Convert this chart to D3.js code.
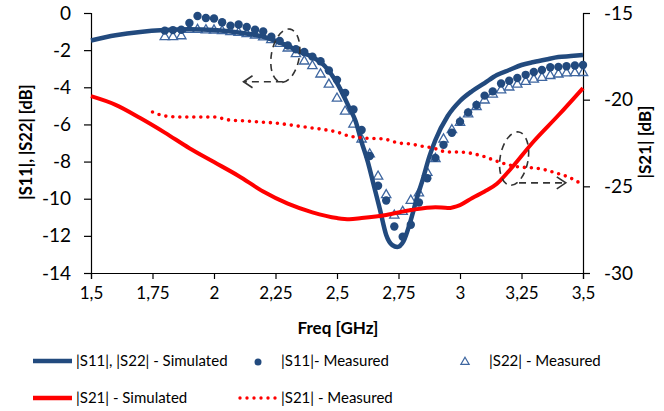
<!DOCTYPE html>
<html><head><meta charset="utf-8">
<script src="https://cdn.jsdelivr.net/npm/d3@7"></script>
<style>body{margin:0;background:#fff} text{font-family:Lato,"Open Sans",sans-serif;fill:#000}</style>
</head><body><svg id="c" width="664" height="411"></svg>
<script>
const xTicks = [1.5,1.75,2,2.25,2.5,2.75,3,3.25,3.5];
const yLeftTicks = [0,-2,-4,-6,-8,-10,-12,-14];
const yRightTicks = [-15,-20,-25,-30];

const simFreq = [1.5,1.6,1.7,1.8,1.9,2.0,2.1,2.2,2.25,2.3,2.35,2.4,2.45,2.5,2.55,2.575,2.6,2.625,2.65,2.675,2.7,2.725,2.745,2.77,2.8,2.825,2.85,2.875,2.9,2.95,3.0,3.05,3.1,3.15,3.2,3.25,3.3,3.35,3.4,3.45,3.5];
const s11Sim = [-1.48,-1.2,-1.02,-0.92,-0.88,-0.92,-1.05,-1.28,-1.5,-1.76,-2.1,-2.37,-2.85,-3.77,-5.1,-5.8,-6.95,-8.0,-9.3,-10.6,-11.95,-12.5,-12.6,-12.3,-11.15,-9.96,-8.9,-7.75,-6.84,-5.55,-4.74,-4.2,-3.77,-3.34,-3.07,-2.8,-2.64,-2.5,-2.37,-2.32,-2.26];

const measFreq = [1.800,1.833,1.867,1.900,1.933,1.967,2.000,2.033,2.067,2.100,2.133,2.167,2.200,2.233,2.267,2.300,2.333,2.367,2.400,2.433,2.467,2.500,2.533,2.567,2.600,2.633,2.667,2.700,2.733,2.767,2.800,2.833,2.867,2.900,2.933,2.967,3.000,3.033,3.067,3.100,3.133,3.167,3.200,3.233,3.267,3.300,3.333,3.367,3.400,3.433,3.467,3.500];
const s11Meas = [-0.95,-0.92,-0.9,-0.54,-0.16,-0.27,-0.3,-0.5,-0.68,-0.62,-0.75,-0.9,-1.0,-1.28,-1.5,-1.75,-1.95,-2.1,-2.35,-2.6,-3.1,-3.6,-4.3,-5.2,-6.3,-7.7,-9.3,-10.1,-11.5,-12.05,-11.4,-10.2,-8.9,-7.8,-7.1,-6.45,-5.85,-5.35,-4.95,-4.45,-4.22,-3.8,-3.65,-3.5,-3.33,-3.18,-3.07,-2.92,-2.9,-2.87,-2.83,-2.8];
const s22Meas = [-1.29,-1.29,-1.24,-0.9,-0.9,-0.92,-0.93,-0.97,-1.02,-1.06,-1.12,-1.2,-1.3,-1.45,-1.65,-1.9,-2.2,-2.6,-2.85,-3.3,-3.85,-4.6,-5.3,-6.0,-6.8,-7.6,-8.8,-9.8,-10.9,-10.7,-10.1,-9.7,-8.6,-7.85,-6.8,-6.3,-5.9,-5.45,-5.05,-4.7,-4.38,-4.15,-4.0,-3.85,-3.7,-3.58,-3.48,-3.38,-3.3,-3.24,-3.23,-3.22];

const s21SimFreq = [1.5,1.6,1.7,1.8,1.9,2.0,2.1,2.2,2.3,2.4,2.5,2.55,2.6,2.7,2.8,2.9,2.95,3.0,3.05,3.1,3.15,3.2,3.3,3.4,3.5];
const s21Sim = [-19.8,-20.3,-21.06,-21.9,-22.8,-23.6,-24.4,-25.3,-26.0,-26.5,-26.83,-26.9,-26.83,-26.65,-26.37,-26.2,-26.25,-26.08,-25.67,-25.3,-24.85,-24.1,-22.4,-20.9,-19.33];

const s21MeasFreq = [1.75,1.80,1.86,1.92,2.0,2.06,2.13,2.19,2.25,2.31,2.37,2.43,2.5,2.55,2.61,2.69,2.75,2.8,2.84,2.89,2.95,2.99,3.04,3.09,3.16,3.2,3.24,3.3,3.35,3.39,3.44,3.48];
const s21Meas = [-20.71,-20.94,-21.0,-21.0,-21.0,-21.17,-21.23,-21.29,-21.35,-21.46,-21.58,-21.69,-21.87,-22.1,-22.21,-22.27,-22.5,-22.56,-22.67,-22.79,-23.02,-23.02,-23.08,-23.25,-23.6,-23.77,-23.88,-23.94,-24.06,-24.23,-24.46,-24.75];

const legendLabels = ["|S11|, |S22| - Simulated","|S11|- Measured","|S22| - Measured","|S21| - Simulated","|S21| - Measured"];

const BLUE = "#224a7e", TRI = "#3e66a0", RED = "#ff0000";
const svg = d3.select("#c");
const L = 91, R = 583, T = 13, B = 273;
const x = d3.scaleLinear().domain([1.5,3.5]).range([L,R]);
const yL = d3.scaleLinear().domain([-14,0]).range([B,T]);
const yR = d3.scaleLinear().domain([-30,-15]).range([B,T]);
const fmt = d => String(d).replace('.',',');

// axes
const gx = svg.append("g").attr("transform",`translate(0,${B})`)
  .call(d3.axisBottom(x).tickValues(xTicks).tickSize(6).tickPadding(8).tickFormat(fmt));
const gl = svg.append("g").attr("transform",`translate(${L},0)`)
  .call(d3.axisLeft(yL).tickValues(yLeftTicks).tickSize(7).tickPadding(13).tickFormat(d=>String(d)));
const gr = svg.append("g").attr("transform",`translate(${R},0)`)
  .call(d3.axisRight(yR).tickValues(yRightTicks).tickSize(7).tickPadding(14).tickFormat(d=>String(d)));
[gx,gl,gr].forEach(g=>{
  g.select(".domain").attr("stroke","#000").attr("stroke-width",1.2);
  g.selectAll(".tick line").attr("stroke","#000").attr("stroke-width",1.2);
  g.selectAll("text").style("font-family","Lato, 'Open Sans', sans-serif").attr("fill","#000");
});
gx.selectAll("text").style("font-size","17px");
gl.selectAll("text").style("font-size","19px");
gr.selectAll("text").style("font-size","19px");

// axis titles
svg.append("text").attr("transform","translate(32,142) rotate(-90)").attr("text-anchor","middle")
  .style("font-size","16.5px").style("font-weight","bold").text("|S11|, |S22| [dB]");
svg.append("text").attr("transform","translate(651,142) rotate(-90)").attr("text-anchor","middle")
  .style("font-size","17px").style("font-weight","bold").text("|S21| [dB]");
svg.append("text").attr("x",338).attr("y",334).attr("text-anchor","middle")
  .style("font-size","17px").style("font-weight","bold").text("Freq [GHz]");

const lineL = d3.line().x(d=>x(d[0])).y(d=>yL(d[1])).curve(d3.curveMonotoneX);
const lineR = d3.line().x(d=>x(d[0])).y(d=>yR(d[1])).curve(d3.curveMonotoneX);

// S22 measured triangles (under the simulated line)
const tri = d3.symbol().type(d3.symbolTriangle).size(38);
svg.append("g").selectAll("path").data(d3.zip(measFreq,s22Meas)).join("path")
  .attr("d",tri).attr("transform",d=>`translate(${x(d[0])},${yL(d[1])})`)
  .attr("fill","none").attr("stroke",TRI).attr("stroke-width",1.3);

// S11 simulated
svg.append("path").datum(d3.zip(simFreq,s11Sim)).attr("d",lineL)
  .attr("fill","none").attr("stroke",BLUE).attr("stroke-width",4.5).attr("stroke-linejoin","round");

// S11 measured dots
svg.append("g").selectAll("circle").data(d3.zip(measFreq,s11Meas)).join("circle")
  .attr("cx",d=>x(d[0])).attr("cy",d=>yL(d[1])).attr("r",4.2).attr("fill",BLUE);

// S21 simulated
svg.append("path").datum(d3.zip(s21SimFreq,s21Sim)).attr("d",lineR)
  .attr("fill","none").attr("stroke",RED).attr("stroke-width",4).attr("stroke-linejoin","round");
// S21 measured dotted
svg.append("path").datum(d3.zip(s21MeasFreq,s21Meas)).attr("d",lineR)
  .attr("fill","none").attr("stroke",RED).attr("stroke-width",3.6).attr("stroke-linecap","round")
  .attr("stroke-dasharray","0 7");

// annotations
function ellipse(cx,cy,rx,ry,rot){
  svg.append("ellipse").attr("cx",cx).attr("cy",cy).attr("rx",rx).attr("ry",ry)
    .attr("transform",`rotate(${rot},${cx},${cy})`)
    .attr("fill","none").attr("stroke","#333").attr("stroke-width",1.6).attr("stroke-dasharray","7 5");
}
function arrow(x1,x2,yy){
  svg.append("line").attr("x1",x1).attr("x2",x2).attr("y1",yy).attr("y2",yy)
    .attr("stroke","#333").attr("stroke-width",1.6).attr("stroke-dasharray","7 5");
  const dir = x2 < x1 ? 1 : -1;
  svg.append("path").attr("d",`M${x2+dir*9},${yy-6}L${x2},${yy}L${x2+dir*9},${yy+6}`)
    .attr("fill","none").attr("stroke","#333").attr("stroke-width",1.6);
}
ellipse(x(2.29), yL(-2.3), 14, 27, 10);
arrow(x(2.28), x(2.12), yL(-3.7));
ellipse(x(3.22), yR(-23.4), 14, 27, 10);
arrow(x(3.24), x(3.43), yR(-24.8));

// legend
const lg = svg.append("g").style("font-size","15px");
const row1 = 361, row2 = 398;
lg.append("line").attr("x1",33).attr("x2",72).attr("y1",row1).attr("y2",row1).attr("stroke",BLUE).attr("stroke-width",4.5);
lg.append("text").attr("x",76).attr("y",row1+5).text(legendLabels[0]);
lg.append("circle").attr("cx",258).attr("cy",row1+1).attr("r",3.5).attr("fill",BLUE);
lg.append("text").attr("x",281).attr("y",row1+5).text(legendLabels[1]);
lg.append("path").attr("d",d3.symbol().type(d3.symbolTriangle).size(30)).attr("transform",`translate(465,${row1+1})`)
  .attr("fill","none").attr("stroke",TRI).attr("stroke-width",1.2);
lg.append("text").attr("x",489).attr("y",row1+5).text(legendLabels[2]);
lg.append("line").attr("x1",33).attr("x2",72).attr("y1",row2).attr("y2",row2).attr("stroke",RED).attr("stroke-width",4.5);
lg.append("text").attr("x",76).attr("y",row2+5).text(legendLabels[3]);
lg.append("line").attr("x1",240).attr("x2",276).attr("y1",row2).attr("y2",row2).attr("stroke",RED).attr("stroke-width",3.4)
  .attr("stroke-linecap","round").attr("stroke-dasharray","0 7");
lg.append("text").attr("x",281).attr("y",row2+5).text(legendLabels[4]);
</script></body></html>
